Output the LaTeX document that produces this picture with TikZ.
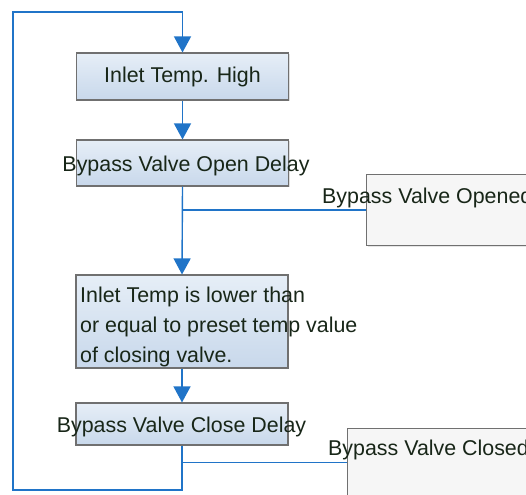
\documentclass[tikz,border=0pt]{standalone}
\usepackage{fontspec}
\setmainfont{Liberation Sans}
\usetikzlibrary{arrows.meta,shadows}
\definecolor{flow}{RGB}{32,116,200}
\definecolor{boxedge}{RGB}{112,112,112}
\definecolor{txt}{RGB}{24,38,24}
\definecolor{boxtop}{RGB}{230,238,247}
\definecolor{boxbot}{RGB}{200,216,235}
\definecolor{pale}{RGB}{246,246,246}
\begin{document}
\begin{tikzpicture}[x=1pt,y=-1pt,
  stepbox/.style={draw=boxedge, line width=1.1pt, top color=boxtop, bottom color=boxbot,
    minimum width=212pt, inner sep=0pt,
    drop shadow={opacity=0.25, shadow xshift=1.2pt, shadow yshift=-1.2pt}},
  statebox/.style={draw=boxedge, line width=1.1pt, fill=pale, inner sep=0pt, anchor=north west,
    drop shadow={opacity=0.2, shadow xshift=1.2pt, shadow yshift=-1.2pt}},
  lbl/.style={text=txt, font=\fontsize{21.4}{30}\selectfont, inner sep=0pt},
  link/.style={draw=flow, line width=1.4pt},
  arr/.style={link, -{Triangle[width=17pt,length=16pt]}}]
\useasboundingbox (0,0) rectangle (526,494);
\clip (0,0) rectangle (526,494);

% boxes
\node[stepbox, minimum height=47pt, lbl] (b1) at (182.5,76.5) {Inlet Temp. High};
\node[stepbox, minimum height=46pt] (b2) at (182.5,163) {};
\node[stepbox, minimum height=93pt] (b3) at (182,321.5) {};
\node[stepbox, minimum height=42pt] (b4) at (182,424) {};
\node[statebox, minimum width=200pt, minimum height=71pt] (op) at (366,174) {};
\node[statebox, minimum width=220pt, minimum height=68pt] (cl) at (347,428) {};

% texts
\node[lbl] (t2) at (186,166) {Bypass Valve Open Delay};
\node[lbl, align=left, anchor=north west] (t3) at (80,287)
  {Inlet Temp is lower than\\or equal to preset temp value\\of closing valve.};
\node[lbl] (t4) at (181.5,427) {Bypass Valve Close Delay};
\node[lbl, anchor=west] (top) at (322,198) {Bypass Valve Opened};
\node[lbl, anchor=west] (tcl) at (328,450) {Bypass Valve Closed};

% loop coordinates
\coordinate (lb) at (13,490);
\coordinate (lt) at (13,12);

% connectors
\draw[arr] (b1.south) -- (b2.north);
\draw[arr] (b2.south) -- (b3.north);
\draw[arr] (b3.south) -- (b4.north);
\draw[link] (b2.south |- op.west) -- (op.west);
\draw[link] (b4.south |- cl.west) -- (cl.west);
\draw[arr] (b4.south) -- (b4.south |- lb) -- (lb) -- (lt) -- (b1.north |- lt) -- (b1.north);
\end{tikzpicture}
\end{document}
